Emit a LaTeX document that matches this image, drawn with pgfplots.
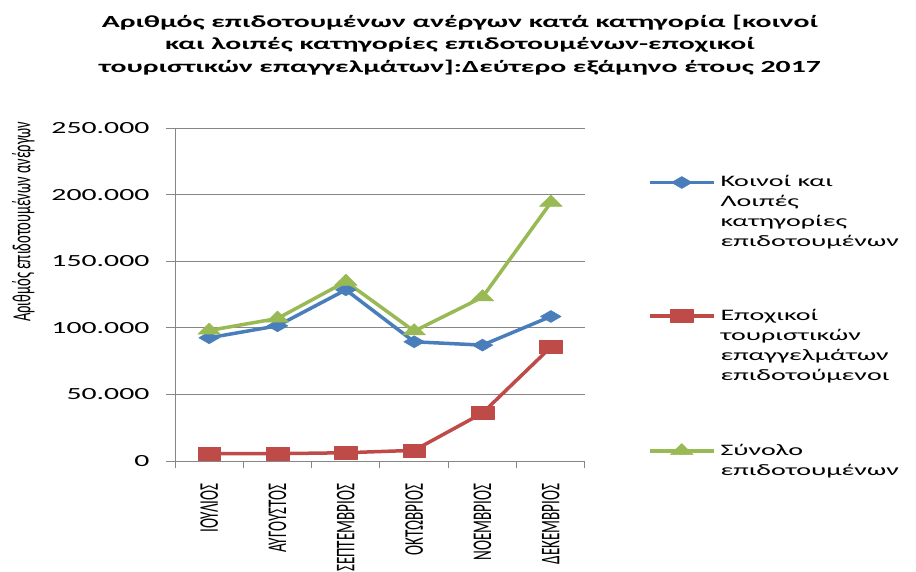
\documentclass[border=0pt]{standalone}
\usepackage{fontspec}
\setmainfont{Carlito}[FakeStretch=1.75]
\newfontfamily\rotfont{Carlito}[FakeStretch=0.56]
\usepackage{pgfplots}
\pgfplotsset{compat=1.18}
\definecolor{sblue}{HTML}{4A7EBB}
\definecolor{sred}{HTML}{BE4B48}
\definecolor{sgreen}{HTML}{98B954}
\definecolor{axgray}{HTML}{868686}

\begin{document}
\begin{tikzpicture}
\useasboundingbox (0,0) rectangle (916pt,571pt);
\begin{axis}[
  at={(175pt,110pt)}, anchor=south west,
  scale only axis, width=410pt, height=333pt,
  xmin=-0.5, xmax=5.5, ymin=0, ymax=250000,
  axis x line*=bottom, axis y line*=left,
  axis line style={axgray, line width=1pt, -},
  xtick={0,...,5},
  xticklabels={ΙΟΥΛΙΟΣ,ΑΥΓΟΥΣΤΟΣ,ΣΕΠΤΕΜΒΡΙΟΣ,ΟΚΤΩΒΡΙΟΣ,ΝΟΕΜΒΡΙΟΣ,ΔΕΚΕΜΒΡΙΟΣ},
  major x tick style={draw=none},
  minor xtick={-0.5,0.5,...,5.5},
  minor x tick style={axgray, line width=1pt},
  minor tick length=7pt,
  ytick={0,50000,...,250000},
  yticklabels={0,50.000,100.000,150.000,200.000,250.000},
  scaled y ticks=false,
  y tick style={axgray, line width=1pt},
  major tick length=9pt,
  tick align=outside,
  ymajorgrids, grid style={axgray, line width=0.9pt},
  xticklabel style={rotate=90, anchor=east, font=\rotfont\fontsize{27}{30}\selectfont},
  xticklabel shift=10pt,
  yticklabel style={font=\fontsize{17}{20}\selectfont},
  yticklabel shift=13pt,
  ylabel={Αριθμός επιδοτουμένων ανέργων},
  ylabel style={at={(axis description cs:-0.37,0.718)}, anchor=center,
    font=\rotfont\fontsize{26}{30}\selectfont},
  title={Αριθμός επιδοτουμένων ανέργων κατά κατηγορία [κοινοί\\
    και λοιπές κατηγορίες επιδοτουμένων-εποχικοί\\
    τουριστικών επαγγελμάτων]:Δεύτερο εξάμηνο έτους 2017},
  title style={at={(axis description cs:0.695,1.333)}, anchor=north, align=center,
    font=\bfseries\fontsize{17}{22.5}\selectfont},
  legend cell align=left,
  legend style={draw=none, fill=none, at={(axis description cs:1.146,0.861)},
    anchor=north west, row sep=121pt, column sep=5pt,
    nodes={inner sep=0pt}, font=\fontsize{16}{20}\selectfont},
  legend image code/.code={\draw[mark repeat=2,mark phase=2,#1]
    plot coordinates {(0pt,0pt) (32pt,0pt) (64pt,0pt)};},
  every axis plot/.append style={line width=3.5pt, line join=round},
  clip=false,
]
\addplot[sblue, mark=diamond*, mark size=6pt, mark options={xscale=2.3, line width=0.5pt}]
  coordinates {(0,92500) (1,101500) (2,128500) (3,89500) (4,87000) (5,108500)};
\addlegendentry{\raisebox{-5pt}[0pt][0pt]{\begin{tabular}[t]{@{}l@{}}Κοινοί και\\Λοιπές\\κατηγορίες\\επιδοτουμένων\end{tabular}}}
\addplot[sred, mark=square*, mark size=6.5pt, mark options={xscale=1.75, line width=0.5pt}]
  coordinates {(0,5500) (1,5500) (2,6200) (3,8000) (4,36000) (5,85500)};
\addlegendentry{\raisebox{-5pt}[0pt][0pt]{\begin{tabular}[t]{@{}l@{}}Εποχικοί\\τουριστικών\\επαγγελμάτων\\επιδοτούμενοι\end{tabular}}}
\addplot[sgreen, mark=triangle*, mark size=7.5pt, mark options={xscale=1.75, line width=0.5pt}]
  coordinates {(0,98000) (1,107000) (2,134700) (3,97500) (4,123000) (5,194000)};
\addlegendentry{\raisebox{-5pt}[0pt][0pt]{\begin{tabular}[t]{@{}l@{}}Σύνολο\\επιδοτουμένων\end{tabular}}}
\end{axis}
\end{tikzpicture}
\end{document}
